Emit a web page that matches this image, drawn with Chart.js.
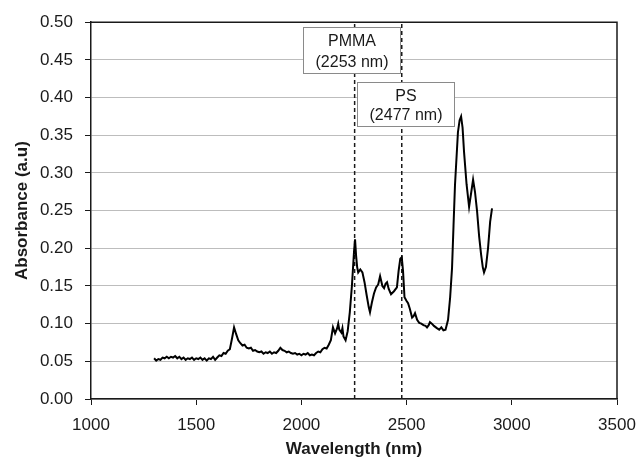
<!DOCTYPE html>
<html>
<head>
<meta charset="utf-8">
<script src="https://cdn.jsdelivr.net/npm/chart.js@4/dist/chart.umd.min.js"></script>
<style>
  html, body { margin: 0; padding: 0; background: #fff; }
  #wrap { width: 639px; height: 466px; }
</style>
</head>
<body>
<div id="wrap"><canvas id="spectrum"></canvas></div>
<script>
// spectrum
const wavelength = [
  1300, 1310, 1320, 1330, 1340, 1350, 1360, 1370, 1380, 1390,
  1400, 1410, 1420, 1430, 1440, 1450, 1460, 1470, 1480, 1490,
  1500, 1510, 1520, 1530, 1540, 1550, 1560, 1570, 1580, 1590,
  1600, 1610, 1620, 1630, 1640, 1650, 1660, 1670, 1680, 1690,
  1700, 1710, 1720, 1730, 1740, 1750, 1760, 1770, 1780, 1790,
  1800, 1810, 1820, 1830, 1840, 1850, 1860, 1870, 1880, 1890,
  1900, 1910, 1920, 1930, 1940, 1950, 1960, 1970, 1980, 1990,
  2000, 2010, 2020, 2030, 2040, 2050, 2060, 2070, 2080, 2090,
  2100, 2110, 2120, 2130, 2140, 2150, 2160, 2170, 2175, 2180,
  2190, 2195, 2200, 2210, 2220, 2230, 2240, 2250, 2255, 2260,
  2265, 2270, 2280, 2290, 2300, 2310, 2320, 2326, 2335, 2345,
  2355, 2365, 2374, 2385, 2393, 2400, 2407, 2415, 2426, 2440,
  2454, 2462, 2470, 2477, 2483, 2490, 2500, 2507, 2515, 2526,
  2533, 2540, 2550, 2560, 2570, 2580, 2590, 2597, 2605, 2611,
  2620, 2630, 2644, 2655, 2665, 2675, 2685, 2697, 2707, 2716,
  2723, 2730, 2744, 2752, 2759, 2766, 2773, 2785, 2797, 2806,
  2816, 2825, 2835, 2845, 2854, 2862, 2868, 2877, 2887, 2897,
  2906
];
const absorbance = [
  0.054, 0.051, 0.053, 0.052, 0.055, 0.054, 0.056, 0.054, 0.056, 0.055,
  0.057, 0.054, 0.056, 0.053, 0.055, 0.052, 0.054, 0.053, 0.055, 0.052,
  0.054, 0.053, 0.055, 0.052, 0.054, 0.051, 0.054, 0.053, 0.056, 0.052,
  0.055, 0.058, 0.057, 0.061, 0.060, 0.064, 0.066, 0.080, 0.095, 0.086,
  0.078, 0.074, 0.071, 0.072, 0.068, 0.067, 0.068, 0.064, 0.065, 0.063,
  0.062, 0.063, 0.060, 0.062, 0.061, 0.063, 0.060, 0.062, 0.061, 0.064,
  0.068, 0.065, 0.064, 0.062, 0.063, 0.061, 0.060, 0.061, 0.059, 0.060,
  0.058, 0.060, 0.059, 0.061, 0.058, 0.059, 0.058, 0.061, 0.063, 0.062,
  0.066, 0.068, 0.067, 0.072, 0.078, 0.095, 0.087, 0.094, 0.100, 0.092,
  0.088, 0.094, 0.083, 0.078, 0.090, 0.115, 0.150, 0.195, 0.212, 0.190,
  0.175, 0.168, 0.172, 0.168, 0.155, 0.138, 0.122, 0.115, 0.128, 0.140,
  0.148, 0.152, 0.163, 0.150, 0.147, 0.153, 0.155, 0.146, 0.139, 0.143,
  0.148, 0.170, 0.186, 0.188, 0.170, 0.135, 0.130, 0.127, 0.120, 0.108,
  0.110, 0.114, 0.105, 0.101, 0.100, 0.098, 0.097, 0.095, 0.098, 0.102,
  0.100, 0.097, 0.094, 0.092, 0.095, 0.091, 0.092, 0.105, 0.135, 0.174,
  0.230, 0.284, 0.354, 0.370, 0.375, 0.360, 0.328, 0.285, 0.255, 0.272,
  0.291, 0.275, 0.249, 0.215, 0.192, 0.175, 0.168, 0.175, 0.200, 0.235,
  0.253
];

// marked peaks
const peakNames = ['PMMA', 'PS'];
const peakWavelengths = [2253, 2477];

const xTicks = [1000, 1500, 2000, 2500, 3000, 3500];
const yTicks = [0, 0.05, 0.1, 0.15, 0.2, 0.25, 0.3, 0.35, 0.4, 0.45, 0.5];

const FONT = "'Liberation Sans', Arial, sans-serif";
const INK = '#1a1a1a';

// label boxes, in data units (x from/to, y top/bottom)
const boxSpots = [
  { x0: 2008, x1: 2469, y0: 0.493, y1: 0.433 },
  { x0: 2264, x1: 2725, y0: 0.421, y1: 0.362 }
];

const calloutPlugin = {
  id: 'callouts',
  afterDatasetsDraw(chart) {
    const { ctx, chartArea: a, scales: { x, y } } = chart;
    ctx.save();
    // top and right edges of the frame
    ctx.strokeStyle = INK;
    ctx.lineWidth = 1.5;
    ctx.beginPath();
    ctx.moveTo(a.left, a.top);
    ctx.lineTo(a.right, a.top);
    ctx.lineTo(a.right, a.bottom);
    ctx.stroke();
    ctx.restore();

    peakNames.forEach((name, i) => {
      const b = boxSpots[i];
      const l = Math.round(x.getPixelForValue(b.x0)) + 0.5;
      const r = Math.round(x.getPixelForValue(b.x1)) + 0.5;
      const t = Math.round(y.getPixelForValue(b.y0)) + 0.5;
      const bt = Math.round(y.getPixelForValue(b.y1)) + 0.5;
      const h = bt - t;
      ctx.save();
      ctx.fillStyle = '#fff';
      ctx.fillRect(l, t, r - l, h);
      ctx.strokeStyle = '#8a8a8a';
      ctx.lineWidth = 1;
      ctx.strokeRect(l, t, r - l, h);
      ctx.fillStyle = INK;
      ctx.font = '16px ' + FONT;
      ctx.textAlign = 'center';
      ctx.textBaseline = 'middle';
      const cx = (l + r) / 2;
      ctx.fillText(name, cx, t + h * 0.31);
      ctx.fillText('(' + peakWavelengths[i] + ' nm)', cx, t + h * 0.76);
      ctx.restore();
    });
  }
};

const peakLines = peakWavelengths.map(w => ({
  data: [{ x: w, y: 0 }, { x: w, y: 0.5 }],
  borderColor: INK,
  borderWidth: 1.5,
  borderDash: [4, 3],
  pointRadius: 0
}));

const canvasElem = document.querySelector('#spectrum');
new Chart(canvasElem, {
  type: 'line',
  data: {
    datasets: [
      {
        data: wavelength.map((w, i) => ({ x: w, y: absorbance[i] })),
        borderColor: '#000',
        borderWidth: 2,
        pointRadius: 0,
        tension: 0
      },
      ...peakLines
    ]
  },
  options: {
    responsive: true,
    maintainAspectRatio: false,
    animation: false,
    layout: { padding: { top: 20, right: 22, left: 0, bottom: 0 } },
    plugins: {
      legend: { display: false },
      tooltip: { enabled: false }
    },
    scales: {
      x: {
        type: 'linear',
        min: xTicks[0],
        max: xTicks[xTicks.length - 1],
        afterBuildTicks: s => { s.ticks = xTicks.map(v => ({ value: v })); },
        afterFit: s => {
          s.height = 67;
          s.paddingLeft = 0;
          s.paddingRight = 0;
        },
        border: { color: INK, width: 1.5 },
        grid: {
          drawOnChartArea: false,
          tickColor: INK,
          tickLength: 6
        },
        ticks: {
          color: INK,
          padding: 10,
          maxRotation: 0,
          font: { family: FONT, size: 17 },
          callback: v => String(v)
        },
        title: {
          display: true,
          text: 'Wavelength (nm)',
          color: INK,
          padding: { top: 0, bottom: 6 },
          font: { family: FONT, size: 17, weight: 'bold' }
        }
      },
      y: {
        min: 0,
        max: 0.5,
        afterBuildTicks: s => { s.ticks = yTicks.map(v => ({ value: v })); },
        afterFit: s => { s.width = 91; },
        border: { color: INK, width: 1.5 },
        grid: {
          color: '#bdbdbd',
          tickColor: INK,
          tickLength: 6
        },
        ticks: {
          color: INK,
          padding: 12,
          font: { family: FONT, size: 17 },
          callback: v => v.toFixed(2)
        },
        title: {
          display: true,
          text: 'Absorbance (a.u)',
          color: INK,
          padding: { top: 12, bottom: 0 },
          font: { family: FONT, size: 17, weight: 'bold' }
        }
      }
    }
  },
  plugins: [calloutPlugin]
});
</script>
</body>
</html>
